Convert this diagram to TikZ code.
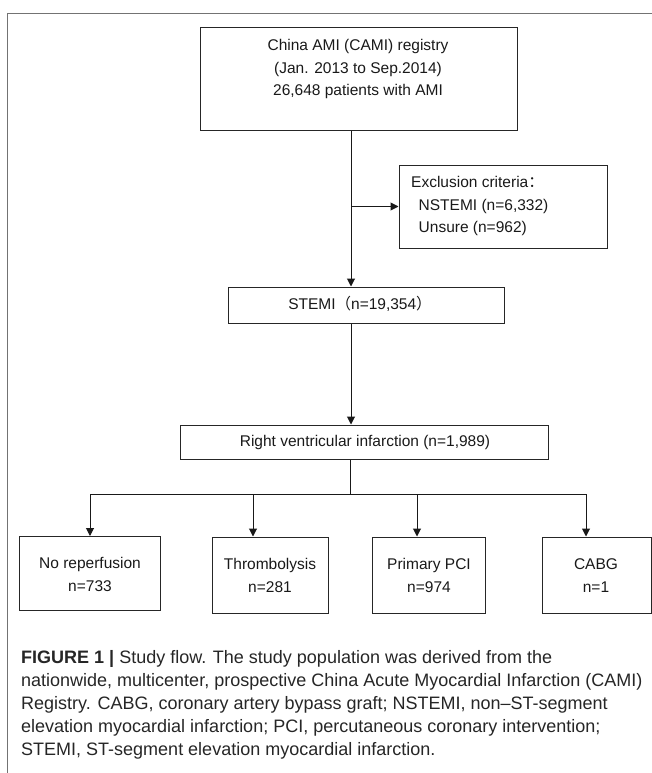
\documentclass[tikz,border=0pt]{standalone}
\usepackage{fontspec}
\setmainfont{Liberation Sans}
\newfontfamily\cjk{Noto Sans CJK SC}
\usetikzlibrary{arrows.meta}
\begin{document}
\begin{tikzpicture}[x=1pt,y=-1pt,
  box/.style={draw, black!85, line width=1pt, inner sep=0pt},
  link/.style={black!90, line width=1pt},
  arr/.style={link, -{Triangle[length=8pt,width=8pt]}},
  txt/.style={font=\fontsize{15.5}{22.8}\selectfont, align=center, inner sep=0pt, text=black!90},
  captxt/.style={font=\fontsize{18}{23}\selectfont, align=left, inner sep=0pt, anchor=north west, text=black!85}]
\useasboundingbox (0,0) rectangle (652,773);
\draw[black!55, line width=1pt] (7.5,773) -- (7.5,14) -- (652,14);

% boxes
\node[box, minimum width=317pt, minimum height=102pt] (top) at (358.5,79) {};
\node[txt] (toptxt) at (358,69) {China AMI (CAMI) registry\\(Jan. 2013 to Sep.2014)\\26,648 patients with AMI};

\node[box, minimum width=208pt, minimum height=83pt] (excl) at (503,206.5) {};
\node[txt, align=left, anchor=west] (excltxt) at (411,206) {Exclusion criteria{\cjk ：}\\\hspace*{7.5pt}NSTEMI (n=6,332)\\\hspace*{7.5pt}Unsure (n=962)};

\node[box, minimum width=276pt, minimum height=36pt] (stemi) at (366,305) {};
\node[txt] (stemitxt) at (360,304) {STEMI{\cjk （}n=19,354{\cjk ）}};

\node[box, minimum width=368pt, minimum height=34pt] (rvi) at (364,442) {};
\node[txt] (rvitxt) at (365,442.5) {Right ventricular infarction (n=1,989)};

\node[box, minimum width=141pt, minimum height=74pt] (nr) at (90,573.5) {};
\node[txt] (nrtxt) at (90,574.5) {No reperfusion\\n=733};
\node[box, minimum width=116pt, minimum height=76pt] (th) at (270,575) {};
\node[txt] (thtxt) at (270,575.5) {Thrombolysis\\n=281};
\node[box, minimum width=113pt, minimum height=76pt] (pp) at (428.5,575) {};
\node[txt] (pptxt) at (429,575.5) {Primary PCI\\n=974};
\node[box, minimum width=109pt, minimum height=76pt] (cabg) at (596.5,575) {};
\node[txt] (cabgtxt) at (596,575.5) {CABG\\n=1};

% connectors
\coordinate (spine) at (351,0);
\draw[arr] (top.south -| spine) -- (stemi.north -| spine);
\draw[arr] (spine |- excl.west) -- (excl.west);
\draw[arr] (stemi.south -| spine) -- (rvi.north -| spine);
\coordinate (br) at (350,494);
\coordinate (d1) at (90,494);
\coordinate (d2) at (253,494);
\coordinate (d3) at (417,494);
\coordinate (d4) at (586,494);
\draw[link] (rvi.south -| br) -- (br);
\draw[link] (d1) -- (d4);
\draw[arr] (d1) -- (d1 |- nr.north);
\draw[arr] (d2) -- (d2 |- th.north);
\draw[arr] (d3) -- (d3 |- pp.north);
\draw[arr] (d4) -- (d4 |- cabg.north);

% caption
\node[captxt] (caption) at (21,650.6) {{\bfseries FIGURE 1 |} Study flow. The study population was derived from the\\nationwide, multicenter, prospective China Acute Myocardial Infarction (CAMI)\\Registry. CABG, coronary artery bypass graft; NSTEMI, non--ST-segment\\elevation myocardial infarction; PCI, percutaneous coronary intervention;\\STEMI, ST-segment elevation myocardial infarction.};
\end{tikzpicture}
\end{document}
